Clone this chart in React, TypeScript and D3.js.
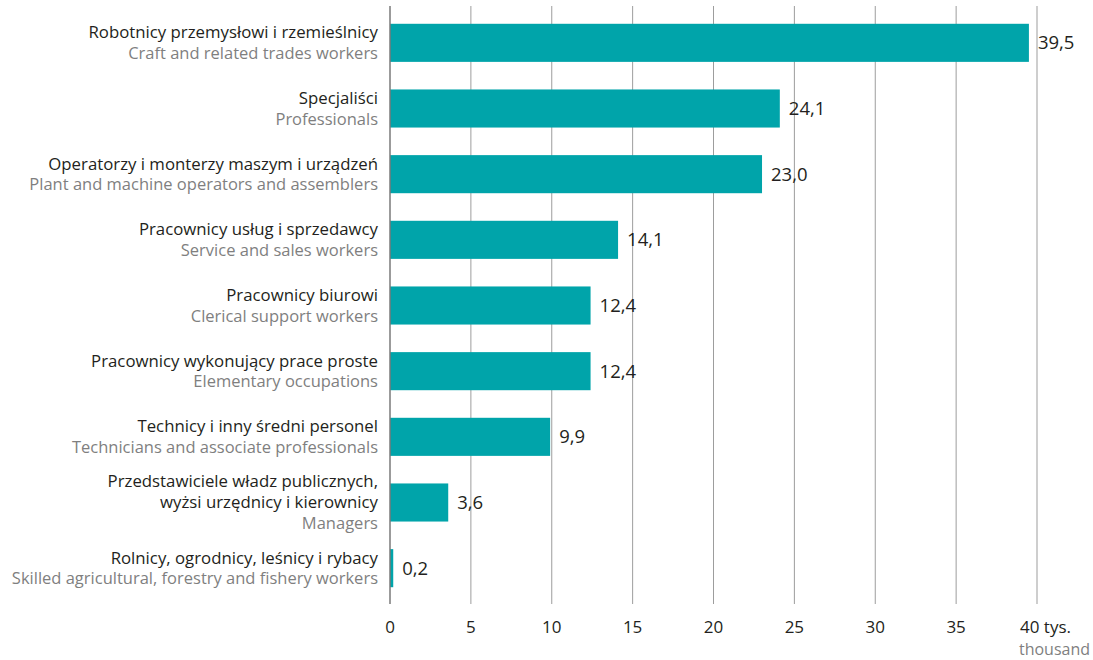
import React from "react";
import * as d3 from "d3";

const categoriesPl: string[][] = [
  ["Robotnicy przemysłowi i rzemieślnicy"],
  ["Specjaliści"],
  ["Operatorzy i monterzy maszym i urządzeń"],
  ["Pracownicy usług  i sprzedawcy"],
  ["Pracownicy biurowi"],
  ["Pracownicy wykonujący prace proste"],
  ["Technicy i inny średni personel"],
  ["Przedstawiciele władz publicznych,", "wyżsi urzędnicy i kierownicy"],
  ["Rolnicy, ogrodnicy, leśnicy i rybacy"],
];
const categoriesEn: string[] = [
  "Craft and related trades workers",
  "Professionals",
  "Plant and machine operators and assemblers",
  "Service and sales workers",
  "Clerical support workers",
  "Elementary occupations",
  "Technicians and associate professionals",
  "Managers",
  "Skilled agricultural, forestry and fishery workers",
];
const values: number[] = [39.5, 24.1, 23.0, 14.1, 12.4, 12.4, 9.9, 3.6, 0.2];
const ticks: number[] = [0, 5, 10, 15, 20, 25, 30, 35, 40];

const W = 1093;
const H = 660;
const FONT = "'Open Sans', 'Noto Sans', sans-serif";

export default function App() {
  const x = d3.scaleLinear().domain([0, 40]).range([390, 1037]);
  const idx = values.map((_, i) => String(i));
  const y = d3.scaleBand().domain(idx).range([10, 601]).paddingInner(0.42).paddingOuter(0.21);
  const fmt = (v: number) => v.toFixed(1).replace(".", ",");
  const lineH = 21;

  return (
    <svg width={W} height={H} style={{ position: "absolute", left: 0, top: 0, background: "#fff" }}>
      {ticks.slice(1).map((t) => (
        <line key={"g" + t} x1={x(t)} x2={x(t)} y1={6} y2={604} stroke="#9d9d9d" strokeWidth={1} />
      ))}
      {values.map((v, i) => {
        const yy = y(String(i))!;
        return (
          <g key={i}>
            <rect x={x(0)} y={yy} width={Math.max(x(v) - x(0), 1.5)} height={y.bandwidth()} fill="#00a4aa" />
            <text
              x={Math.max(x(v), x(0) + 2) + 9}
              y={yy + y.bandwidth() / 2}
              dy="0.35em"
              fontFamily={FONT}
              fontSize={18.5}
              fill="#231f20"
            >
              {fmt(v)}
            </text>
          </g>
        );
      })}
      <line x1={x(0)} x2={x(0)} y1={6} y2={604} stroke="#7a7a7a" strokeWidth={1.5} />
      {values.map((_, i) => {
        const yy = y(String(i))! + y.bandwidth() / 2;
        const lines = [...categoriesPl[i].map((t) => ({ t, en: false })), { t: categoriesEn[i], en: true }];
        const n = lines.length;
        return (
          <g key={"l" + i}>
            {lines.map((l, j) => (
              <text
                key={j}
                x={378}
                y={yy + (j - (n - 1) / 2) * lineH}
                dy="0.35em"
                textAnchor="end"
                fontFamily={FONT}
                fontSize={l.en ? 16.5 : 16.8}
                fill={l.en ? "#7f7f7f" : "#231f20"}
              >
                {l.t}
              </text>
            ))}
          </g>
        );
      })}
      {ticks.map((t) => (
        <text
          key={"tl" + t}
          x={t === 40 ? x(t) - 17 : x(t)}
          y={633}
          textAnchor={t === 40 ? "start" : "middle"}
          fontFamily={FONT}
          fontSize={17}
          fill="#231f20"
        >
          {t === 40 ? "40 tys." : String(t)}
        </text>
      ))}
      <text x={1090} y={655} textAnchor="end" fontFamily={FONT} fontSize={16} fill="#7f7f7f">
        thousand
      </text>
    </svg>
  );
}
